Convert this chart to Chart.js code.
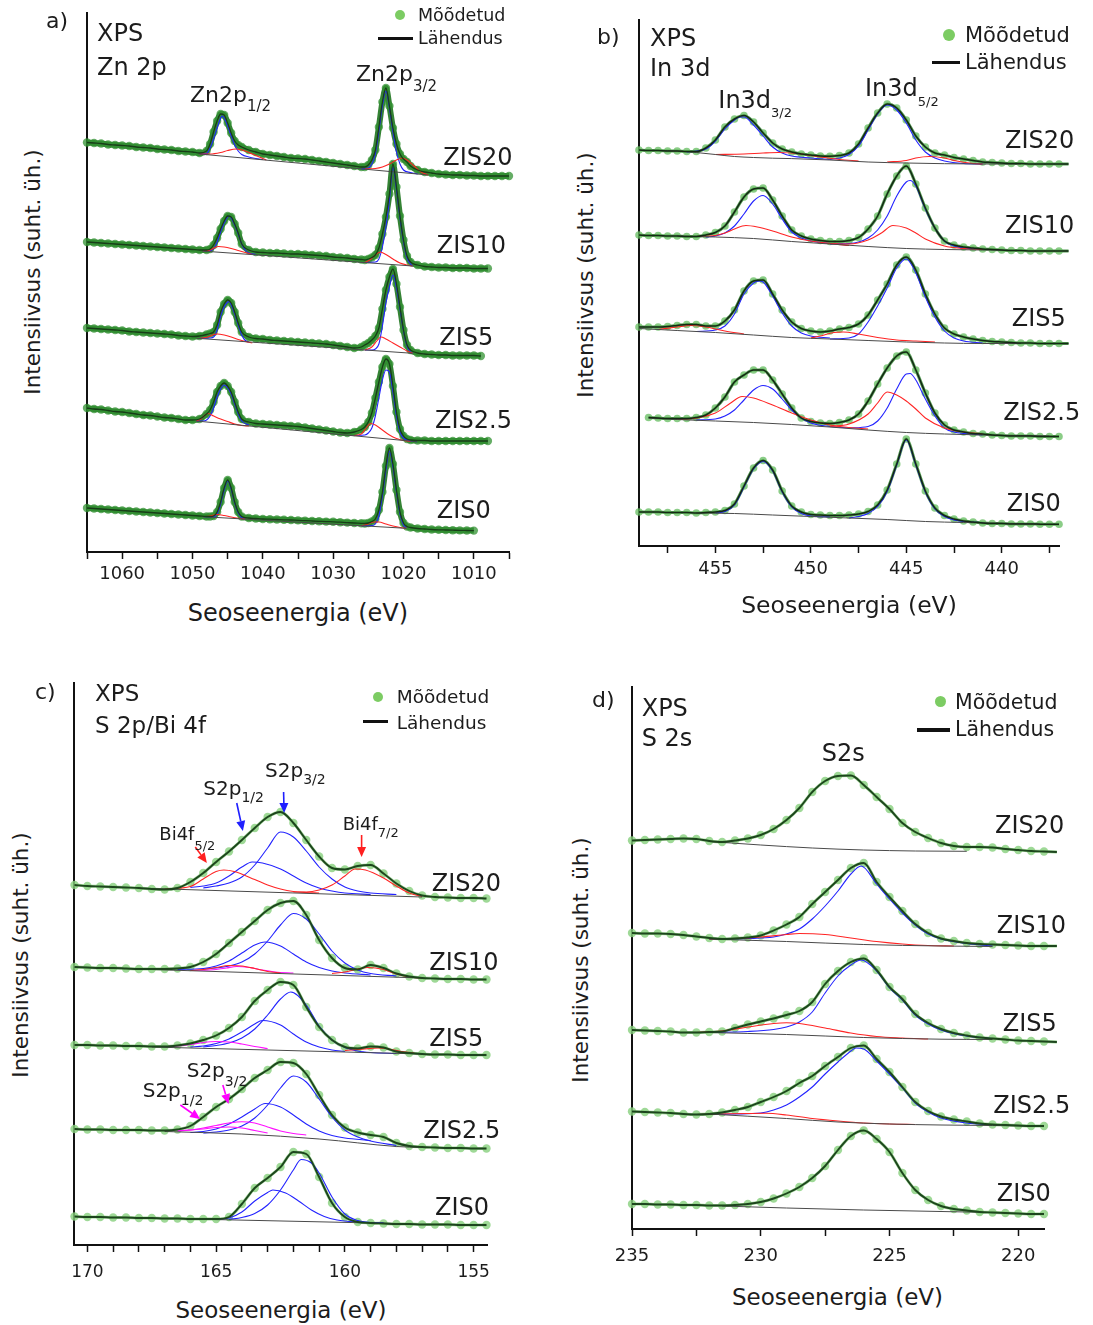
<!DOCTYPE html>
<html lang="et">
<head>
<meta charset="utf-8">
<title>XPS spektrid</title>
<script src="https://cdn.jsdelivr.net/npm/chart.js@4.4.1/dist/chart.umd.min.js"></script>
<style>
  html, body { margin: 0; padding: 0; background: #fff; }
  body { position: relative; width: 1093px; height: 1325px; overflow: hidden;
         font-family: "DejaVu Sans", sans-serif; color: #1c1c1c; }
  canvas { position: absolute; }
  .t { position: absolute; white-space: nowrap; line-height: 1; }
  .sub { position: relative; }
  .dot { position: absolute; border-radius: 50%; background: #7ccc63; }
  .bar { position: absolute; background: #111; }
</style>
</head>
<body>
<canvas id="zn"></canvas>
<canvas id="in"></canvas>
<canvas id="s2p"></canvas>
<canvas id="s2s"></canvas>
<script>
// Sample names (top to bottom in every panel)
const samples = ['ZIS20', 'ZIS10', 'ZIS5', 'ZIS2.5', 'ZIS0'];

// ---------------- Zn 2p (binding energy, eV) ----------------
const znE = [1065,1064,1063,1062,1061,1060,1059,1058,1057,1056,1055,1054,1053,1052,1051,1050,1049,1048,
  1047.5,1047,1046.5,1046,1045.5,1045,1044.5,1044,1043.5,1043,
  1042,1041,1040,1039,1038,1037,1036,1035,1034,1033,1032,1031,1030,1029,1028,1027,1026,
  1025.5,1025,1024.5,1024,1023.5,1023,1022.5,1022,1021.5,1021,1020.5,1020,1019.5,1019,
  1018,1017,1016,1015,1014,1013,1012,1011,1010,1009,1008,1007,1006,1005];
// stacked intensities (arb. units, offset per sample)
const znZIS20 = [409.5,409,408.5,407.5,407,406.5,406,405,404.5,404,403,402.5,402,401,400.5,400,399,401,
  408,420,431,438,437,429,419,411,407,405,
  402,400,398,397,396,395,394,393.5,393,392,391,390,389,388,387,386,385,
  385,387,392,402,425,450,464,446,424,408,398,393,390,386,
  382,380,379,378,377.5,377,377,376.5,376.5,376,376,376,376,376];
const znZIS10 = [310,309.5,309,308.5,308,307.5,307,306.5,306,305.5,305,304.5,304,303.5,303,302.5,302,302,
  303,307,314,323,331,336,335,328,319,308,
  302,300,299.5,299,299,298.5,298,298,297.5,297,296.5,296,295,294.5,294,293,292.5,
  292,293,294.5,297,304,318,335,358,388,365,336,312,296,290,
  287,285.5,285,284.5,284.5,284,284,284,283.5,283.5,283.5,null,null,null];
const znZIS5 = [224,223.5,223,222.5,222,221.5,220.5,220,219.5,219,218.5,218,217.5,216.5,216,215.5,216,217.5,
  218.5,220,227,240,248,252,249,240,229,220,
  215,213.5,213,212,211.5,211,210.5,210,209.5,209,208.5,208,207,206,205,204,205,
  207,209,212,216,224,243,262,275,283,268,245,222,207,202,
  199,198,197.5,197,197,196.5,196.5,196.5,196.5,196,null,null,null,null];
const znZIS25 = [144,143,142.5,141.5,140.5,140,139,138,137,136.5,135.5,134.5,134,133,132,132,133,138,
  142,150,160,166,169,166,160,150,140,133,
  130,128.5,128,127.5,127,126.5,126,125.5,124.5,123.5,122.5,121.5,120.5,119.5,119,120,122.5,
  125,130,139,154,170,185,193,188,166,140,123,116,113,112,
  111.5,111.5,111,111,111,111,111,111,111,111,111,null,null,null];
const znZIS0 = [44,43.5,43,42.5,42,41.5,41,40.5,40,39.5,39,38.5,38,37.5,37,36.5,36,35.5,
  35.5,36,40,50,64,72,64,50,40,35.5,
  34,33.5,33,32.8,32.5,32.2,32,31.6,31.3,31,30.7,30.4,30.2,29.8,29.4,29,28.7,
  28.5,29,30.5,33,42,60,86,104,88,62,40,29,25.5,24.5,
  23.5,23,22.5,22.2,22,21.8,21.6,21.5,21.4,null,null,null,null,null];

// fitted components and backgrounds, [eV, intensity]
const znFit20 = {
  base: [[1049,398],[1016.5,377]],
  blue: [[[1049,398],[1048,398.5],[1047.5,404],[1047,413],[1046.5,424],[1046,434],[1045.8,436],[1045.5,434],[1045,426],[1044.5,416],[1044,407],[1043.5,401],[1043,397.5],[1042,395],[1041,393.5],[1040,392.5]],
         [[1026,383],[1025,384],[1024.5,388],[1024,398],[1023.5,421],[1023,446],[1022.5,461],[1022,444],[1021.5,420],[1021,400],[1020.5,388],[1020,382],[1019,379.5],[1018,378]]],
  red:  [[[1049,398],[1047.5,398],[1046,399.5],[1045,401.5],[1043.8,403],[1042.5,401],[1041.5,398],[1040.5,395],[1039.5,392]],
         [[1025.5,383],[1024,383.5],[1023,385],[1022,388],[1021,392],[1020.2,394],[1019.5,392],[1018.5,386],[1017.5,380],[1016.5,377]]]
};
const znFit10 = {
  base: [[1048.7,301],[1018.7,286]],
  blue: [[[1048.5,301],[1047.5,301.5],[1047,303],[1046.5,310],[1046,320],[1045.5,329],[1045,335],[1044.7,336],[1044.5,334],[1044,327],[1043.5,318],[1043,308],[1042.5,302],[1042,299],[1041,297.5]],
         [[1025.5,289.5],[1024,290],[1023.5,293],[1023,305],[1022.5,325],[1022,352],[1021.5,385],[1021,362],[1020.5,334],[1020,310],[1019.5,294],[1019,288],[1018.7,286]]],
  red:  [[[1048.5,301],[1047.5,302],[1046.8,304.5],[1046.3,305.5],[1045.5,305],[1044.5,303.5],[1043.5,301.5],[1042.5,299.5],[1041.5,297.5]],
         [[1025.5,289.5],[1024.8,292],[1024,297],[1023.3,300],[1022.5,297.5],[1021.5,293],[1020.5,289],[1019.5,287],[1018.7,286]]]
};
const znFit5 = {
  base: [[1049.4,213.7],[1018.7,198.7]],
  blue: [[[1049,213.5],[1047.5,214],[1047,215],[1046.5,222],[1046,236],[1045.5,245],[1045,250],[1044.8,250.5],[1044.5,247],[1044,238],[1043.5,227],[1043,217],[1042.5,211.5],[1042,210]],
         [[1025.5,202],[1024.5,202],[1024,203],[1023.5,208],[1023,226],[1022.5,249],[1022,265],[1021.5,277],[1021,264],[1020.5,243],[1020,221],[1019.5,206],[1019,200],[1018.7,198.7]]],
  red:  [[[1049,213.5],[1047.8,215],[1047,217.5],[1046.5,218],[1045.5,217],[1044.5,215],[1043.5,212.5],[1042.5,210.5],[1041.5,209]],
         [[1025.5,202],[1024.5,205],[1023.8,211],[1023.2,215],[1022.5,213],[1021.5,209],[1020.5,205],[1019.5,201],[1018.7,198.7]]]
};
const znFit25 = {
  base: [[1049.5,131],[1018.1,110.3]],
  blue: [[[1049.5,131],[1048.5,131],[1048,132],[1047.5,136],[1047,144],[1046.5,155],[1046,163],[1045.5,167],[1045,164],[1044.5,158],[1044,148],[1043.5,138],[1043,131],[1042,127]],
         [[1027,116.5],[1025.5,117],[1025,119],[1024.5,124],[1024,136],[1023.5,154],[1023,172],[1022.5,182],[1022,180],[1021.5,160],[1021,136],[1020.5,120],[1020,114],[1019,111],[1018.1,110.3]]],
  red:  [[[1049.5,131],[1048.8,133],[1048.2,137],[1047.8,138.5],[1047,136],[1046,133],[1045,130.5],[1044,128],[1043,126.5],[1042,126]],
         [[1027,116.5],[1026,118],[1025.3,124],[1024.7,128.5],[1024,127],[1023,122],[1022,117],[1021,113.5],[1020,111.5],[1019,110.5]]]
};
const znFit0 = {
  base: [[1048.5,35.3],[1019.6,23.7]],
  blue: [[[1048.5,35.3],[1047,35],[1046.5,38],[1046,48],[1045.5,62],[1045,71],[1044.5,63],[1044,49],[1043.5,39],[1043,34.5],[1042.5,33]],
         [[1026,26.3],[1024.5,26.5],[1024,28],[1023.5,36],[1023,56],[1022.5,82],[1022,101],[1021.5,85],[1021,60],[1020.5,38],[1020,27],[1019.6,24]]],
  red:  [[[1048.5,35.3],[1047.5,36],[1047,37],[1046.5,37.5],[1045.5,36.5],[1044.5,35],[1043.5,33.8],[1042.5,33]],
         [[1026,26.3],[1025,28],[1024.3,30],[1023.5,30],[1022.5,28],[1021.5,26],[1020.5,24.5],[1019.6,23.7]]]
};

// ---------------- In 3d ----------------
const inE = [459,458.5,458,457.5,457,456.5,456,455.5,455,454.5,454,453.5,453,452.5,452,451.5,451,450.5,450,449.5,
  449,448.5,448,447.5,447,446.5,446,445.5,445,444.5,444,443.5,443,442.5,442,441.5,441,440.5,440,439.5,
  439,438.5,438,437.5,437,436.5];
const inZIS20 = [396,395.5,395.5,395,395,394.5,394.5,398,406,419,427,430.5,424,413,403,397,394,392,391,390,
  389.7,390.5,393,402,418,433,442,438,426,410,399,393,391,388.5,387,385.5,384,383.5,383,382.5,
  382.5,382,382,382,382,382];
const inZIS10 = [311,310.5,310.5,310,310,309.5,309.5,311,313.5,320,334,349,357,358,346,330,316,310,307,305.5,
  304.5,304.5,305.5,308.5,317,330,352,370,380,362,338,318,305,301,299,298,297,296.5,296,295.5,
  295.5,295,295,295,295,295];
const inZIS5 = [219,219,219,219.5,220.5,221.5,221.5,220,220,225,236,255,265,266,252,236,224,217.5,215,214,
  215,217,218.5,222,231,246,262,281,289,276,252,232,218,212,209,207,205.5,204.5,204,203.5,
  203,203,202.5,202.5,202.5,202.5];
const inZIS25 = [null,128.5,128,127.5,127.5,127.5,128.5,131,138,149,164,171,176,176,166,152,138,128,124.5,123,
  122.5,123.5,126,132,145,162,178,190,194,176,153,133,121,116,114,112.5,112,111,110.5,110,
  110,110,109.5,109.5,109.5,null];
const inZIS0 = [34,34,34,33.5,33.5,33.5,33,33.5,34,35.5,42,60,78,85.5,76,55,40,34,31.5,31,
  30.5,30.5,31,32,34.5,41,56,82,107,82,55,38,30.5,27,25,24,23,22.5,22.5,22,
  22,22,21.8,21.7,21.7,null];

const inFit20 = {
  base: [[458,395.5],[457,395],[456,393.5],[455,391.5],[454,389.5],[453,388.5],[452,387.8],[451,387.4],[449,386],[447,384],[445,383],[443,382.3],[441,382],[439,382]],
  blue: [[[456.5,394],[455.5,397],[455,405],[454.5,417],[454,426],[453.7,429],[453.5,429],[453,421],[452.5,410],[452,399],[451.5,393],[451,390],[450,388],[449,386.5]],
         [[449,386.5],[448.5,388],[448,391.5],[447.5,400],[447,416],[446.5,432],[446,441],[445.5,436],[445,423],[444.5,406],[444,394],[443.5,388],[443,385],[442,382.5],[441,382]]],
  red:  [[[455,391.5],[453.5,392],[452.5,393],[451.7,393.5],[450.5,392],[449.5,389],[448.5,386.5],[447.5,385]],
         [[446,384],[445,385.5],[444.5,388],[443.8,389.5],[443,388],[442.5,385.5],[441.5,382.5],[441,382]]]
};
const inFit10 = {
  base: [[457,310],[455,309],[453,307.5],[451,304.5],[449,302],[447,299.5],[445,297.5],[443,296.5],[441,296],[439,295.5]],
  blue: [[[455.5,309],[455,310],[454.5,313],[454,320],[453.5,332],[453,345],[452.5,350.5],[452,342],[451.5,327],[451,314],[450.5,308],[450,305],[449,302.5]],
         [[449,302],[448,302.5],[447.5,304],[447,308],[446.5,316],[446,330],[445.5,350],[445,364],[444.8,365.5],[444.5,360],[444,337],[443.5,318],[443,305],[442.5,300],[442,298],[441,296.5]]],
  red:  [[[456,309.5],[455,310.5],[454.5,313],[454,317],[453.4,320.5],[452.8,319],[452,315],[451,309],[450,305],[449,302.5],[448,300.5]],
         [[449,302.5],[448,302],[447,306],[446.3,313],[445.7,320.5],[445,318],[444.5,313],[444,307],[443,300],[442,297.5],[441,296.5]]]
};
const inFit5 = {
  base: [[459,217.5],[457,215.5],[455,213.5],[453,211],[451,208.5],[449,207],[447,205.5],[445,204],[443,203],[441,202.5],[439,202.5]],
  blue: [[[456,214.5],[455,216],[454.5,220],[454,232],[453.5,252],[453,263],[452.7,265],[452.5,264],[452,250],[451.5,233],[451,220],[450.5,213],[450,210],[449,208]],
         [[449,207],[448,208],[447.5,212],[447,224],[446.5,240],[446,258],[445.5,278],[445,287],[444.5,273],[444,249],[443.5,229],[443,215],[442.5,208],[442,205],[441,203]]],
  red:  [[[458,216.5],[457,219],[456.3,220.5],[455.5,219],[454.5,215],[453.5,212]],
         [[450,208],[449.5,210],[448.8,213.5],[448.3,214],[447.5,212],[446.5,208.5],[445.5,206],[444.5,205],[443.5,204]]]
};
const inFit25 = {
  base: [[458.5,128],[457,126.5],[455,125],[453,123.5],[451,121.5],[449,119],[447,116],[445,113.5],[443,112],[441,111],[439,110.5],[437.5,110]],
  blue: [[[456,126],[455,127],[454.5,130],[454,136],[453.5,146],[453,156],[452.5,160.5],[452,157],[451.5,147],[451,136],[450.5,128],[450,123],[449,119.5],[448,118]],
         [[448,118],[447,119.5],[446.5,125],[446,138],[445.5,157],[445,172],[444.8,172.5],[444.5,166],[444,147],[443.5,130],[443,118],[442.5,114],[442,112.5],[441,111]]],
  red:  [[[457,126.5],[456,128],[455,133],[454.2,143],[453.6,149.5],[453,148],[452,141],[451,133],[450,126],[449,121],[448,118.5],[447,117]],
         [[449,119.5],[448,122],[447,132],[446.5,143],[446,154],[445.5,151],[445,145],[444.5,137],[444,128],[443,118],[442,114],[441,112]]]
};
const inFit0 = {
  base: [[456,33],[454,32.5],[452,31],[450,29.5],[448,28],[446,26.5],[444,24.5],[442,23.5],[440,22.8],[438,22]],
  blue: [[[455,33],[454.5,34.5],[454,41],[453.5,59],[453,77],[452.5,84.5],[452,75],[451.5,54],[451,39],[450.5,32.5],[450,30],[449,29]],
         [[448,28],[447.5,29.5],[447,32.5],[446.5,39.5],[446,54.5],[445.5,81],[445,106],[444.5,81],[444,54],[443.5,37],[443,29.5],[442.5,26],[442,24.5],[441,23.5]]]
};

// ---------------- S 2p / Bi 4f ----------------
const s2pE = [170.5,170,169.5,169,168.5,168,167.5,167,166.5,166,165.5,165,164.5,164,163.5,163,162.5,162,161.5,161,
  160.5,160,159.5,159,158.5,158,157.5,157,156.5,156,155.5,155,154.5];
const s2pZIS20 = [360,359,358.5,358,357.5,357,356,355.5,357,363,372,383,393.5,405,417,428,433,422,405,388.5,
  377,375.5,379,380,371.5,361.5,354,349.5,348,347.5,347,347,346.5];
const s2pZIS10 = [278,277.5,277,277,276.5,276,276,276,276.5,278,283,291,302,313,324,335,342,344,330,305,
  287,277,275.5,280,277,271.5,268.5,267,266.5,266,266,265.5,265.5];
const s2pZIS5 = [200,200,199.5,199.5,199,199,198.5,198.5,199.5,201.5,205,209.5,217,228,244,255,263,260,238,218,
  205,198,196.5,198.5,197.5,193.5,192,191,190.5,190.5,190,190,190];
const s2pZIS25 = [116,115.5,115.5,115,115,115,114.5,114.5,115.5,119,128,138,146,156,167,175,183,182,171,150,
  130,117.5,112.5,110,108,102,99,98,97.5,97,97,96.5,96.5];
const s2pZIS0 = [28.5,28,28,27.5,27.5,27,27,26.5,26.5,26,26,26,28,41,57,67,78,93,91,68,
  42,28,23,22,21.5,21,21,20.5,20.5,20.5,20,20,20];

const s2pFit20 = {
  base: [[167.5,356.5],[157,348]],
  red:  [[[167,356],[166,358.5],[165.5,366],[165,373.5],[164.7,375],[164.3,373.5],[163.5,365.5],[163,360],[162.5,356],[162,353.5],[161.5,352.5],[161,352]],
         [[162,353],[161.5,353],[161,355],[160.5,360],[160,369],[159.6,376],[159.2,375],[158.5,367],[158,359],[157.5,352],[157,348.5]]],
  blue: [[[166,357.5],[165.5,359],[165,362],[164.5,369],[164,378],[163.6,383],[163.2,382],[162.5,376],[162,369],[161.5,362],[161,357],[160.5,354],[160,352],[159,350.5]],
         [[165.5,357],[165,359],[164.5,362],[164,368],[163.5,380],[163,397],[162.5,413],[162,408],[161.5,394],[161,378],[160.5,366],[160,358],[159.5,354],[159,352],[158,350.5]]]
};
const s2pFit10 = {
  base: [[167.5,275.5],[157,267]],
  blue: [[[166.5,275.5],[165.5,276.5],[165,279],[164.5,284],[164,292],[163.5,300],[163.1,303],[162.5,299],[162,291],[161.5,283],[161,277.5],[160.5,274],[160,272],[159,270]],
         [[165.5,276],[165,277],[164.5,279],[164,283],[163.5,291],[163,304],[162.5,320],[162,331.5],[161.5,326],[161,311],[160.5,294],[160,282],[159.5,275],[159,271.5],[158,269]]],
  magenta: [[[166,274.5],[165,275.5],[164.6,277],[164.2,278.5],[163.7,277.5],[163.2,275],[162.7,273],[162,272]]],
  red:  [[[166,274.5],[165.5,275.5],[165,277.5],[164.5,279.5],[164,279],[163.5,276.5],[163,273.5],[162.5,272]],
         [[160.5,271.5],[160,273],[159.5,276],[159.1,277.5],[158.5,275.5],[158,271],[157.5,268],[157,267]]]
};
const s2pFit5 = {
  base: [[167.5,198],[157,191]],
  blue: [[[166,198],[165.5,199],[165,201.5],[164.5,206],[164,213],[163.5,221],[163.2,224.5],[162.5,220],[162,211],[161.5,203],[161,198],[160.5,195],[160,193.5]],
         [[165.5,198],[165,199.5],[164.5,202],[164,207],[163.5,216],[163,230],[162.5,246],[162.1,253],[161.5,240],[161,219],[160.5,205],[160,197.5],[159.5,194],[159,192.5],[158,191.5]]],
  magenta: [[[167,198.3],[166.5,199],[166,200.5],[165.5,202.5],[165,203.5],[164.5,203],[164,201],[163.5,198.5],[163,196.5]]],
  red:  [[[160,194.5],[159.5,195.5],[159,196.5],[158.7,197],[158.3,196],[157.8,193.5],[157.3,192]]]
};
const s2pFit25 = {
  base: [[167,113.5],[164,111],[161,106],[158,98.5],[157,97.5]],
  blue: [[[166,112.5],[165.5,113.5],[165,116],[164.5,121],[164,128],[163.5,136],[163.1,141.5],[162.5,138],[162,130],[161.5,121],[161,114],[160.5,109.5],[160,107],[159,104.5]],
         [[165.5,112],[165,113],[164.5,115],[164,119],[163.5,127],[163,140],[162.5,157],[162,169],[161.5,163],[161,146],[160.5,128],[160,115],[159.5,108],[159,104],[158,99.5]]],
  magenta: [[[166.5,114],[166,115],[165.5,117],[165,119.5],[164.5,122],[164,123.3],[163.5,122],[163,118],[162.5,114],[162,111.5],[161.5,110]],
            [[166.5,114],[165.5,116],[165,117.5],[164.5,118],[164,117],[163.5,114.5],[163,112]]]
};
const s2pFit0 = {
  base: [[166,26],[158,21.5]],
  blue: [[[165,25.5],[164.5,27],[164,33],[163.5,44],[163,52.5],[162.8,55],[162.3,52],[161.8,44],[161.3,35],[160.8,28.5],[160.3,25],[159.5,23],[158.5,22]],
         [[164.5,25.5],[164,27.5],[163.5,31.5],[163,40],[162.5,55],[162,75],[161.7,85.5],[161.3,82],[161,72],[160.5,48],[160,31],[159.5,24.5],[159,22.5],[158.5,22]]]
};

// ---------------- S 2s ----------------
const s2sE = [235,234.5,234,233.5,233,232.5,232,231.5,231,230.5,230,229.5,229,228.5,228,227.5,227,226.5,226,225.5,
  225,224.5,224,223.5,223,222.5,222,221.5,221,220.5,220,219.5,219,218.5];
const s2sZIS20 = [388.5,389,389.5,390,390.5,390,388,387,388.5,390.5,394,400,409,421,437,448,453,453.5,444,432,
  420,406,397,391,386,383,382,382,381.5,380,379,378,377.5,377];
const s2sZIS10 = [296,295.5,295.5,295,294,292.5,291,290,290.5,291.5,293.5,298.5,304.5,312,325,337,349,361,366,347,
  332,318,305,296,290.5,288,286,285,284.5,284,283.5,283,283,283];
const s2sZIS5 = [199,198.5,198,197.5,196.5,196.5,197,197.5,201,204.5,207.5,210.5,214,218,227,245,258,267,270.5,259,
  242,230,215,206,200,196,193.5,191.5,190.5,189.5,188.5,188,187.5,187];
const s2sZIS25 = [117.5,117,116.5,116,115,114.5,115,116.5,119,122,127,132,138,146,153,163,172,181,183.5,170,
  157,142,127,118,112.5,109.5,107.5,105.5,104.5,104,103.5,103,103,null];
const s2sZIS0 = [25,25,24.5,24.5,24,24,23.5,23.5,24,25,27,30.5,35.5,42,51,63,79,93,98.5,90,
  77,56,39,29,23,20,18.5,17,16.5,16,15.5,15,15,null];

const s2sFit20 = { base: [[232,387.5],[230,384],[228,381],[226,379],[224,378],[222,377.7]] };
const s2sFit10 = {
  base: [[232,290],[229,287.5],[226,284.5],[223,283],[221,282.5]],
  red:  [[[232,290],[231,290.5],[230,292],[229,294.5],[228.5,295.5],[227.5,294.5],[226.5,291],[225.5,287.5],[224.5,285],[223.5,283.5],[222.5,283]]],
  blue: [[[232,290],[230.5,290.5],[229.5,292],[229,295],[228.5,300],[228,310],[227.5,323],[227,338],[226.5,355],[226.1,363],[225.5,345],[225,330],[224.5,316],[224,304],[223.5,295],[223,290],[222,285.5],[221,283]]]
};
const s2sFit5 = {
  base: [[232,196.5],[229,194.5],[226,191.5],[223,189.8],[221,189.5]],
  red:  [[[232.5,196.5],[231.5,198],[230.5,202],[229.5,205.5],[229,206.3],[228.5,205.5],[227.5,201],[226.5,196],[225.5,192.5],[224.5,191],[223.5,190]]],
  blue: [[[232,196.5],[230.5,197.5],[229.5,199.5],[229,202],[228.5,207],[228,217],[227.5,236],[227,253],[226.5,264],[226.1,269],[225.5,258],[225,241],[224.5,229],[224,214],[223.5,205],[223,199],[222,193],[221,190.5]]]
};
const s2sFit25 = {
  base: [[232,115],[229,110.5],[227,107],[225,105],[223,104],[221,103.5],[219.5,103]],
  red:  [[[232.5,114.5],[231.5,115],[230.5,115.5],[229.8,115.7],[229,114],[228,110.5],[227,108],[226,106],[225,105],[224,104.5]]],
  blue: [[[232,114.5],[231,115],[230,116],[229.5,119],[229,124],[228.5,132],[228,142],[227.5,155],[227,167],[226.5,178],[226.3,181],[226,180],[225.5,168],[225,155],[224.5,141],[224,126],[223.5,117],[223,111],[222,106],[221,104]]]
};
const s2sFit0 = { base: [[231.5,23],[229,21],[226,19],[223,17.5],[221,16.5]] };

// peak markers in the S 2p / Bi 4f panel: [eV, intensity] tail -> head
const s2pMarkers = [
  { from: [162.38, 453], to: [162.36, 432], color: '#1f1fff' },
  { from: [164.2, 442],  to: [163.96, 414], color: '#1f1fff' },
  { from: [165.81, 398], to: [165.36, 382], color: '#ff1f1f' },
  { from: [159.35, 410], to: [159.35, 388], color: '#ff1f1f' },
  { from: [166.39, 140], to: [165.62, 126], color: '#ff00ff' },
  { from: [164.74, 160], to: [164.52, 141], color: '#ff00ff' }
];

// ---------------- drawing ----------------
Chart.defaults.font.family = "'DejaVu Sans', sans-serif";
Chart.defaults.color = '#1c1c1c';

const arrowSets = {};
Chart.register({
  id: 'peakArrows',
  afterDatasetsDraw(chart) {
    const items = arrowSets[chart.canvas.id] || [];
    const ctx = chart.ctx, xs = chart.scales.x, ys = chart.scales.y;
    for (const a of items) {
      const x1 = xs.getPixelForValue(a.from[0]), y1 = ys.getPixelForValue(a.from[1]);
      const x2 = xs.getPixelForValue(a.to[0]), y2 = ys.getPixelForValue(a.to[1]);
      const ang = Math.atan2(y2 - y1, x2 - x1), hl = 10, hw = 4.5;
      const bx = x2 - hl * Math.cos(ang), by = y2 - hl * Math.sin(ang);
      ctx.save();
      ctx.strokeStyle = a.color; ctx.fillStyle = a.color; ctx.lineWidth = 1.6;
      ctx.beginPath(); ctx.moveTo(x1, y1); ctx.lineTo(bx, by); ctx.stroke();
      ctx.beginPath(); ctx.moveTo(x2, y2);
      ctx.lineTo(bx + hw * Math.sin(ang), by - hw * Math.cos(ang));
      ctx.lineTo(bx - hw * Math.sin(ang), by + hw * Math.cos(ang));
      ctx.closePath(); ctx.fill();
      ctx.restore();
    }
  }
});

const COMP = { blue: '#2323ff', red: '#ff2525', magenta: '#ff10ff', base: '#4a4a4a' };
const toPts = (E, V) => { const out = []; E.forEach((x, i) => { if (V[i] != null) out.push({ x, y: V[i] }); }); return out; };
const toXY = arr => arr.map(p => ({ x: p[0], y: p[1] }));
const curve = (arr, color, w) => ({ data: toXY(arr), borderColor: color, borderWidth: w, pointRadius: 0,
  cubicInterpolationMode: 'monotone', clip: false, order: 5 });

function spectrum(E, V, parts, look) {
  const sets = [{
    data: toPts(E, V), showLine: true, borderColor: look.band, borderWidth: look.bandW,
    pointRadius: look.r, pointBackgroundColor: look.dot, pointBorderWidth: 0,
    cubicInterpolationMode: 'monotone', clip: false, order: 10
  }];
  if (parts.base) sets.push(curve(parts.base, COMP.base, 1));
  ['red', 'magenta', 'blue'].forEach(k => (parts[k] || []).forEach(c => sets.push(curve(c, COMP[k], 1.1))));
  sets.push({ data: toPts(E, V), borderColor: look.fit, borderWidth: look.fitW, pointRadius: 0,
    cubicInterpolationMode: 'monotone', clip: false, order: 1 });
  return sets;
}

function panel(id, box, range, step, tickFont, tickPad, sets, arrows) {
  const L = 32, R = 24, T = 6, HX = 46;
  const cv = document.getElementById(id);
  cv.width = box.w + L + R; cv.height = box.h + T + HX;
  cv.style.left = (box.x - L) + 'px'; cv.style.top = (box.y - T) + 'px';
  arrowSets[id] = arrows || [];
  const chart = new Chart(cv, {
    type: 'line',
    data: { datasets: sets },
    options: {
      responsive: false, animation: false, devicePixelRatio: 1,
      layout: { padding: { left: L, right: R, top: T, bottom: 0 } },
      plugins: { legend: { display: false }, tooltip: { enabled: false } },
      scales: {
        x: {
          type: 'linear', reverse: true, min: range[0], max: range[1],
          afterFit: s => { s.height = HX; },
          grid: { display: true, drawOnChartArea: false, drawTicks: true, tickLength: 7, tickWidth: 1.5, tickColor: '#111' },
          border: { display: true, color: '#111', width: 2 },
          ticks: { stepSize: step, autoSkip: false, maxRotation: 0, minRotation: 0, includeBounds: false,
                   maxTicksLimit: 100, padding: tickPad, color: '#1c1c1c',
                   font: { size: tickFont },
                   callback: v => (Math.abs(v % 5) < 1e-9 && range.label(v)) ? String(v) : '' }
        },
        y: {
          type: 'linear', min: 0, max: box.h,
          afterFit: s => { s.width = 0; },
          grid: { display: false, drawTicks: false },
          border: { display: true, color: '#111', width: 2 },
          ticks: { display: false }
        }
      }
    }
  });
  // keep the plot frame on its intended page position
  const ca = chart.chartArea;
  cv.style.left = (box.x - ca.left) + 'px';
  cv.style.top = (box.y - ca.top) + 'px';
  return chart;
}

const lookZn = { band: 'rgba(36,120,36,0.92)', bandW: 6, r: 4.2, dot: 'rgba(50,145,50,0.75)', fit: '#183d18', fitW: 1.3 };
const lookIn = { band: 'rgba(55,140,55,0.85)', bandW: 3, r: 3.8, dot: 'rgba(100,188,95,0.75)', fit: '#142814', fitW: 1.5 };
const lookS  = { band: 'rgba(125,200,115,0.75)', bandW: 3, r: 4.2, dot: 'rgba(135,208,125,0.8)', fit: '#1d451d', fitW: 1.9 };

function build(E, series, fits, look) {
  let sets = [];
  series.forEach((V, i) => { sets = sets.concat(spectrum(E, V, fits[i], look)); });
  return sets;
}

const rZn = [1005, 1065]; rZn.label = v => v % 10 === 0 && v >= 1010 && v <= 1060;
const rIn = [437, 459]; rIn.label = v => true;
const rS2p = [154.48, 170.52]; rS2p.label = v => true;
const rS2s = [219, 235]; rS2s.label = v => true;

panel('zn', { x: 87, y: 13, w: 422, h: 539 }, rZn, 5, 18, 5,
  build(znE, [znZIS20, znZIS10, znZIS5, znZIS25, znZIS0], [znFit20, znFit10, znFit5, znFit25, znFit0], lookZn));
panel('in', { x: 639, y: 20, w: 420, h: 526 }, rIn, 2.5, 18, 6,
  build(inE, [inZIS20, inZIS10, inZIS5, inZIS25, inZIS0], [inFit20, inFit10, inFit5, inFit25, inFit0], lookIn));
panel('s2p', { x: 74, y: 683, w: 413, h: 562 }, rS2p, 1, 17, 10,
  build(s2pE, [s2pZIS20, s2pZIS10, s2pZIS5, s2pZIS25, s2pZIS0], [s2pFit20, s2pFit10, s2pFit5, s2pFit25, s2pFit0], lookS),
  s2pMarkers);
panel('s2s', { x: 632, y: 687, w: 412, h: 542 }, rS2s, 2.5, 18, 10,
  build(s2sE, [s2sZIS20, s2sZIS10, s2sZIS5, s2sZIS25, s2sZIS0], [s2sFit20, s2sFit10, s2sFit5, s2sFit25, s2sFit0], lookS));

// ---------------- text and legends ----------------
function txt(html, x, base, size, center) {
  const d = document.createElement('div');
  d.className = 't';
  d.innerHTML = html;
  d.style.fontSize = size + 'px';
  d.style.top = (base - 0.846 * size) + 'px';
  d.style.left = x + 'px';
  if (center) d.style.transform = 'translateX(-50%)';
  document.body.appendChild(d);
}
function vtxt(text, baseX, cy, size) {
  const d = document.createElement('div');
  d.className = 't';
  d.textContent = text;
  d.style.fontSize = size + 'px';
  d.style.left = (baseX - 0.346 * size) + 'px';
  d.style.top = cy + 'px';
  d.style.transform = 'translate(-50%,-50%) rotate(-90deg)';
  document.body.appendChild(d);
}
const sub = (s, size, dy) => `<span class="sub" style="font-size:${size}px;top:${dy}px">${s}</span>`;
function legend(dot, line, tx, b1, b2, size) {
  const d = document.createElement('div');
  d.className = 'dot';
  d.style.left = (dot[0] - dot[2]) + 'px'; d.style.top = (dot[1] - dot[2]) + 'px';
  d.style.width = d.style.height = (2 * dot[2]) + 'px';
  document.body.appendChild(d);
  const b = document.createElement('div');
  b.className = 'bar';
  b.style.left = line[0] + 'px'; b.style.width = (line[1] - line[0]) + 'px';
  b.style.top = (line[2] - line[3] / 2) + 'px'; b.style.height = line[3] + 'px';
  document.body.appendChild(b);
  txt('Mõõdetud', tx, b1, size);
  txt('Lähendus', tx, b2, size);
}

const xTitle = 'Seoseenergia (eV)';
const yTitle = 'Intensiivsus (suht. üh.)';

// a) Zn 2p
txt('a)', 46, 29, 22);
txt('XPS', 97, 41.7, 24);
txt('Zn 2p', 97, 75, 24);
txt('Zn2p' + sub('1/2', 15, 9), 190, 103, 22);
txt('Zn2p' + sub('3/2', 15, 10), 356, 81.5, 22);
[[443.3, 165], [436.7, 253.3], [439.3, 345], [435, 428.3], [436.7, 518.3]]
  .forEach((p, i) => txt(samples[i], p[0], p[1], 24));
txt(xTitle, 298, 621, 24, true);
vtxt(yTitle, 40, 272, 21.5);
legend([400, 15, 5], [378, 413, 38, 3], 418, 21.5, 45, 17.5);

// b) In 3d
txt('b)', 597, 45, 22);
txt('XPS', 650, 46.7, 24);
txt('In 3d', 650, 76, 24);
txt('In3d' + sub('3/2', 13, 9), 718.3, 108, 24);
txt('In3d' + sub('5/2', 13, 10), 865, 96, 24);
[[1005, 148], [1005, 233.3], [1011.7, 326.7], [1003.3, 420], [1006.7, 511.7]]
  .forEach((p, i) => txt(samples[i], p[0], p[1], 24));
txt(xTitle, 849, 614, 23.5, true);
vtxt(yTitle, 593, 275, 21.5);
legend([949.3, 35, 6], [931.7, 960, 62.3, 3.5], 965, 43, 70, 21);

// c) S 2p / Bi 4f
txt('c)', 35, 700, 22);
txt('XPS', 95, 701.7, 23);
txt('S 2p/Bi 4f', 95, 733, 23);
txt('S2p' + sub('3/2', 14, 7.5), 265, 776.5, 20);
txt('S2p' + sub('1/2', 14, 7), 203.3, 795, 20);
txt('Bi4f' + sub('5/2', 13, 10), 159.3, 840, 18);
txt('Bi4f' + sub('7/2', 13, 7), 342.7, 830, 18);
txt('S2p' + sub('1/2', 14, 8), 142.7, 1096.7, 20);
txt('S2p' + sub('3/2', 14, 9), 186.7, 1076.7, 20);
[[431.7, 891.7], [429.3, 970], [429.3, 1046.7], [423.3, 1138], [435, 1215]]
  .forEach((p, i) => txt(samples[i], p[0], p[1], 24));
txt(xTitle, 281, 1318, 23, true);
vtxt(yTitle, 28, 955, 21.5);
legend([378.3, 696.7, 5], [363, 388, 721.7, 3], 396.7, 703.5, 729.5, 18.5);

// d) S 2s
txt('d)', 592, 708, 22);
txt('XPS', 641.7, 716.7, 24);
txt('S 2s', 641.7, 746, 24);
txt('S2s', 821.7, 761.7, 24);
[[995, 833], [996.7, 933], [1002.7, 1031.7], [993.3, 1113], [996.7, 1201.7]]
  .forEach((p, i) => txt(samples[i], p[0], p[1], 24));
txt(xTitle, 837.5, 1305, 23, true);
vtxt(yTitle, 588, 960, 21.5);
legend([940, 701.7, 5.5], [916.7, 950, 730, 3.5], 955, 709.5, 736.5, 20.5);
</script>
</body>
</html>
